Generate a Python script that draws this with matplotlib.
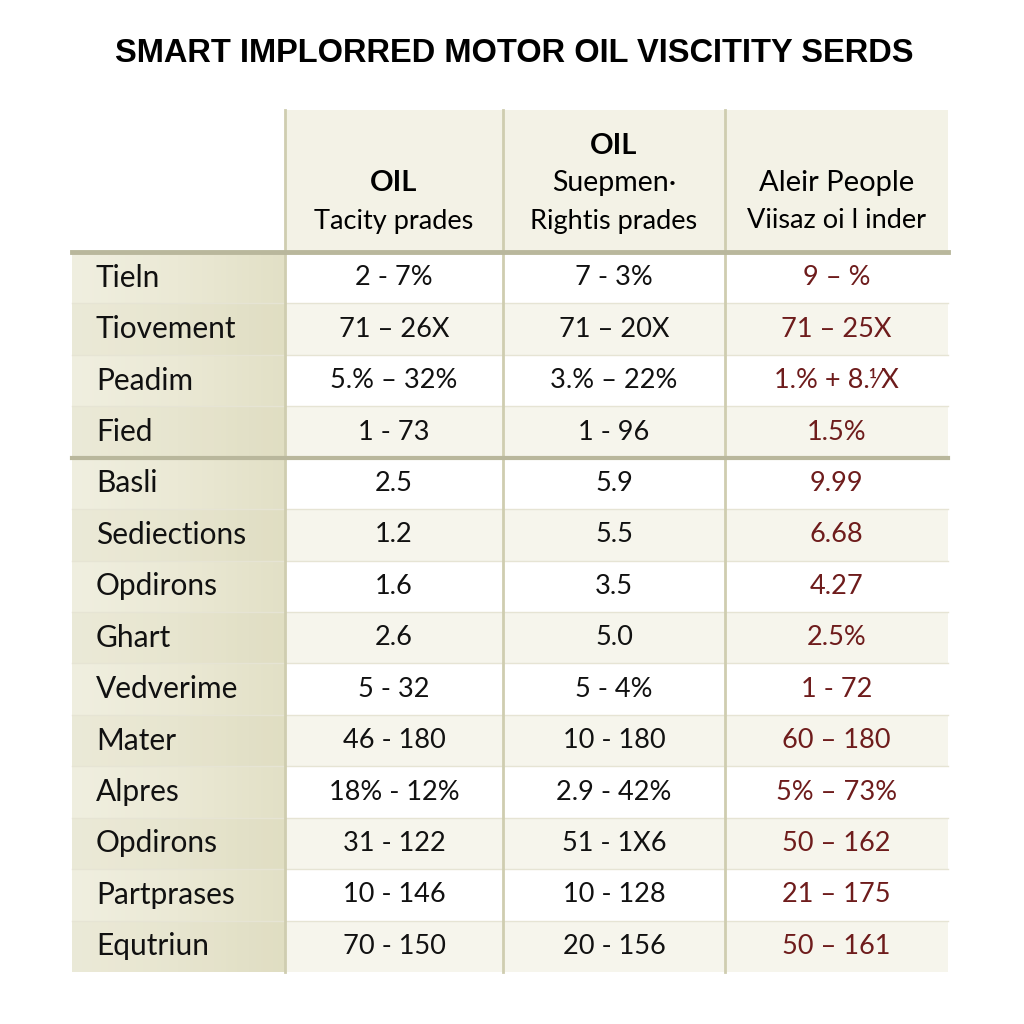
import numpy as np
import matplotlib.pyplot as plt
from matplotlib.patches import Rectangle
from matplotlib.colors import LinearSegmentedColormap

title = "SMART IMPLORRED MOTOR OIL VISCITITY SERDS"

header_top = ["OIL", "OIL", ""]
header_mid = ["", "Suepmen\u00b7", "Aleir People"]
header_bot = ["Tacity prades", "Rightis prades", "Viisaz oi l inder"]

row_labels = ["Tieln", "Tiovement", "Peadim", "Fied", "Basli", "Sediections",
              "Opdirons", "Ghart", "Vedverime", "Mater", "Alpres", "Opdirons",
              "Partprases", "Equtriun"]
col1 = ["2 - 7%", "71 \u2013 26X", "5.% \u2013 32%", "1 - 73", "2.5", "1.2", "1.6",
        "2.6", "5 - 32", "46 - 180", "18% - 12%", "31 - 122", "10 - 146", "70 - 150"]
col2 = ["7 - 3%", "71 \u2013 20X", "3.% \u2013 22%", "1 - 96", "5.9", "5.5", "3.5",
        "5.0", "5 - 4%", "10 - 180", "2.9 - 42%", "51 - 1X6", "10 - 128", "20 - 156"]
col3 = ["9 \u2013 %", "71 \u2013 25X", "1.% + 8.\u215fX", "1.5%", "9.99", "6.68", "4.27",
        "2.5%", "1 - 72", "60 \u2013 180", "5% \u2013 73%", "50 \u2013 162", "21 \u2013 175",
        "50 \u2013 161"]

plt.rcParams['font.family'] = ['Lato', 'DejaVu Sans']

fig = plt.figure(figsize=(10.24, 10.24), dpi=100)
ax = fig.add_axes([0, 0, 1, 1])
ax.set_xlim(0, 1024)
ax.set_ylim(1024, 0)
ax.axis('off')

col_x = [72, 285, 503, 725, 948]
head_y0, head_y1 = 110, 252
table_bottom = 972
n = len(row_labels)
row_h = (table_bottom - head_y1) / n

grid_c = "#cfcdb0"
thick_c = "#b9b79c"
alt_bg = "#f6f5ec"
red_c = "#6e1c1c"

# header background
ax.add_patch(Rectangle((col_x[1], head_y0), col_x[4] - col_x[1], head_y1 - head_y0,
                       facecolor="#f3f2e6", edgecolor="none"))

# label column gradient
grad = LinearSegmentedColormap.from_list("lab", ["#f0efe0", "#ebe9d5", "#e2e0c6"])
ax.imshow(np.linspace(0, 1, 256).reshape(1, -1), cmap=grad, aspect='auto',
          extent=(col_x[0], col_x[1], table_bottom, head_y1), zorder=0.5)

columns = [col1, col2, col3]
for i, lab in enumerate(row_labels):
    y0 = head_y1 + i * row_h
    if i % 2 == 1:
        ax.add_patch(Rectangle((col_x[0], y0), col_x[1] - col_x[0], row_h,
                               facecolor="#d8d5b5", alpha=0.18, edgecolor="none", zorder=1))
        ax.add_patch(Rectangle((col_x[1], y0), col_x[4] - col_x[1], row_h,
                               facecolor=alt_bg, edgecolor="none", zorder=1))
    ax.plot([col_x[0], col_x[4]], [y0, y0], color="#e6e4d4", lw=1, zorder=2)
    yc = y0 + row_h / 2
    ax.text(col_x[0] + 24, yc, lab, fontsize=21.5, va='center', ha='left', color="#111111")
    for j, col in enumerate(columns):
        xc = (col_x[j + 1] + col_x[j + 2]) / 2
        ax.text(xc, yc, col[i], fontsize=19.5, va='center', ha='center',
                color=red_c if j == 2 else "#111111")

# vertical lines
for x in col_x[1:4]:
    ax.plot([x, x], [head_y0, table_bottom], color=grid_c, lw=2, zorder=3)

# thick horizontal lines
ax.plot([col_x[0], col_x[4]], [head_y1, head_y1], color=thick_c, lw=3.5, zorder=3)
y_mid = head_y1 + 4 * row_h
ax.plot([col_x[0], col_x[4]], [y_mid, y_mid], color=thick_c, lw=3, zorder=3)

# header texts
for j in range(3):
    xc = (col_x[j + 1] + col_x[j + 2]) / 2
    if j == 0:
        ax.text(xc, 183, header_top[j], fontsize=21, fontweight='bold', ha='center', va='center')
    elif j == 1:
        ax.text(xc, 146, header_top[j], fontsize=21, fontweight='bold', ha='center', va='center')
        ax.text(xc, 183, header_mid[j], fontsize=20.5, ha='center', va='center')
    else:
        ax.text(xc, 183, header_mid[j], fontsize=21, ha='center', va='center')
    ax.text(xc, 221, header_bot[j], fontsize=19.5, ha='center', va='center')

ax.text(514, 53, title, fontsize=23.5, fontweight='bold', ha='center', va='center',
        family=['Liberation Sans', 'DejaVu Sans'])

fig.savefig("out.png", dpi=100, facecolor="white")
